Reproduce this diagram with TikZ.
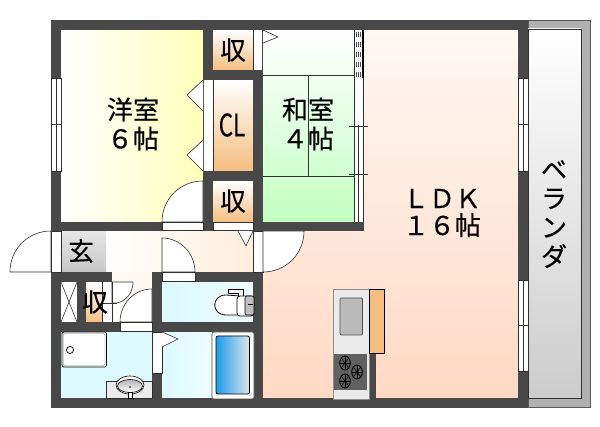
\documentclass[tikz,border=0pt]{standalone}
\usepackage{fontspec}
\setmainfont{Noto Sans CJK JP}[FakeBold=0.25]
\definecolor{wallgray}{HTML}{484848}
\definecolor{linegray}{HTML}{303030}
\definecolor{closetorange}{HTML}{F5BE80}
\definecolor{ldkpale}{HTML}{FFF8F3}
\definecolor{ldkdeep}{HTML}{FFD9C4}
\definecolor{tubblue}{HTML}{1E9BE8}
\definecolor{tubpale}{HTML}{DCE6EE}
\definecolor{wetblue}{HTML}{DCFAFF}
\tikzset{
  wall/.style={fill=wallgray, draw=none},
  opening/.style={fill=white, draw=linegray, line width=0.6pt},
  thinline/.style={draw=linegray, line width=0.6pt},
  roomlabel/.style={inner sep=0pt, font=\fontsize{26}{29}\selectfont, text=black, align=center},
  closetlabel/.style={inner sep=0pt, font=\fontsize{25.5}{28}\selectfont, text=black},
  closetfill/.style={top color=white, bottom color=closetorange, draw=none},
}
\begin{document}
\begin{tikzpicture}[x=1pt, y=-1pt]
\useasboundingbox (0,0) rectangle (600,427);

% veranda
\fill[fill=gray!62] (528,20) rectangle (590,407);
\draw[draw=black!65, line width=0.6pt] (528,20) rectangle (590,407);
\shade[top color=white, bottom color=black!20, draw=linegray, line width=0.5pt] (528,29) rectangle (581,398);

% rooms
\shade[shading angle=135, left color=white, right color=yellow!28!white] (61,30) rectangle (204,222);
\shade[top color=white, bottom color=green!24!white] (263,30) rectangle (354,222);
\shade[top color=ldkpale, bottom color=ldkdeep] (363,30) -- (519,30) -- (519,398) -- (263,398) -- (263,231) -- (363,231) -- cycle;
\shade[left color=white, right color=orange!14!white] (106,231) rectangle (253,272);
\fill[fill=orange!5!white] (112,272) rectangle (152,322);
\shade[left color=wetblue, right color=wetblue!50!white] (162,282) rectangle (253,322);
\fill[fill=wetblue] (61,332) rectangle (152,398);
\shade[left color=wetblue, right color=white] (162,332) rectangle (253,398);
\shade[top color=black!10, bottom color=black!22] (61,231) rectangle (106,272);

% closets
\shade[closetfill] (213,30) rectangle (253,70);
\shade[closetfill] (213,80) rectangle (253,171);
\shade[closetfill] (213,181) rectangle (253,222);
\shade[closetfill] (86,282) rectangle (102,322);
\fill[fill=white] (102,282) rectangle (120,322);
\fill[fill=white] (61,282) rectangle (77,322);
\draw[thinline] (61,282) -- (77,322);
\draw[thinline] (77,282) -- (61,322);

% walls
\fill[wall] (51,20) rectangle (528,30);
\fill[wall] (51,398) rectangle (528,408);
\fill[wall] (51,20) rectangle (61,408);
\fill[wall] (518,20) rectangle (528,408);
\fill[wall] (203,20) rectangle (213,231);
\fill[wall] (253,20) rectangle (263,231);
\fill[wall] (203,70) rectangle (263,80);
\fill[wall] (203,171) rectangle (263,181);
\fill[wall] (51,222) rectangle (364,231);
\fill[wall] (51,272) rectangle (112,282);
\fill[wall] (77,282) rectangle (86,322);
\fill[wall] (51,322) rectangle (120,332);
\fill[wall] (152,272) rectangle (263,282);
\fill[wall] (152,272) rectangle (162,398);
\fill[wall] (152,322) rectangle (263,332);
\fill[wall] (253,272) rectangle (263,398);
\fill[wall] (369,353) rectangle (376,398);

% tatami
\draw[thinline] (263,75) -- (354,75);
\draw[thinline] (263,176) -- (354,176);
\draw[thinline] (308,75) -- (308,176);

% sliding doors to the LDK
\fill[fill=white] (354,30) rectangle (363,222);
\draw[thinline] (354,30) -- (354,222);
\draw[thinline] (363,78) -- (363,222);
\draw[thinline] (358.5,125) -- (358.5,222);
\fill[fill=black] (362,30) rectangle (364,78);
\foreach \y in {32,42,52,62,72} {
  \foreach \x in {356,358,360} {
    \fill[fill=black!70] (\x,\y) rectangle (\x+1,\y+5);
  }
}
\draw[thinline] (349,126) -- (368,126);
\draw[thinline] (349,174) -- (368,174);

% windows
\foreach \x/\ya/\yb in {51/78/171, 518/78/171, 518/280/371} {
  \draw[opening] (\x,\ya) rectangle (\x+10,\yb);
  \draw[thinline] (\x+5,\ya) -- (\x+5,\yb);
  \draw[thinline] (\x,\ya/2+\yb/2) -- (\x+10,\ya/2+\yb/2);
}

% closet doors
\fill[fill=white] (253,30) rectangle (262,70);
\draw[thinline] (253,30) -- (253,70);
\draw[opening] (263,30) -- (278,37) -- (263,43);
\fill[fill=white] (204,80) rectangle (213,171);
\draw[thinline] (213,80) -- (213,171);
\draw[opening] (203,80) -- (187,95) -- (203,111);
\draw[opening] (203,140) -- (187,155) -- (203,171);
\draw[opening] (213,222) rectangle (253,230);

% doors
\draw[opening] (203,181) .. controls (180,181) and (162,199) .. (162,222) -- (203,222) -- cycle;
\draw[opening] (162,222) rectangle (203,230);
\draw[opening] (51,231) .. controls (28,231) and (10,249) .. (10,272) -- (51,272) -- cycle;
\draw[opening] (51,231) rectangle (61,272);
\draw[opening] (253,231) rectangle (263,272);
\draw[opening] (263,272) .. controls (286,272) and (304,254) .. (304,231) -- (263,231) -- cycle;
\draw[opening] (238,231) -- (246,246) -- (253,231);
\draw[opening] (162,238) .. controls (180,238) and (195,253) .. (195,272) -- (162,272) -- cycle;
\draw[opening] (162,272) rectangle (195,281);
\draw[opening] (120,322) .. controls (120,304) and (134,289) .. (152,289) -- (152,322) -- cycle;
\draw[opening] (120,322) rectangle (152,331);
\draw[opening] (112,282) -- (133,282) .. controls (133,293) and (126,301) .. (117,303) -- (112,303) -- cycle;
\draw[thinline] (102,303) -- (117,303);
\draw[thinline] (102,282) -- (102,322);
\draw[thinline] (112,282) -- (112,322);
\fill[fill=white] (152.5,332) rectangle (162,373);
\draw[thinline] (152,332) rectangle (162,373);
\draw[opening] (162,332) -- (178,339) -- (162,347);

% toilet
\draw[fill=white, draw=black, line width=0.8pt] (240,296) -- (226,295) .. controls (211,295) and (211,315) .. (226,315) -- (240,315) -- cycle;
\draw[fill=white, draw=black, line width=0.8pt] (228,289) -- (243,289) -- (243,296) -- (238,296) -- (238,293) -- (228,293) -- cycle;
\draw[fill=white, draw=black, line width=0.8pt, rounded corners=3pt] (237,296) rectangle (254,316);
\draw[fill=black!25, draw=black, line width=0.6pt, rounded corners=2pt] (245,296) rectangle (254,315);
\draw[draw=black, line width=1pt] (248,305) -- (253,305);

% shower pan and sink
\draw[fill=white, draw=black, line width=0.7pt, rounded corners=2pt] (62,332) rectangle (106.5,367);
\draw[draw=gray, line width=0.4pt, rounded corners=2pt] (63.5,333.5) rectangle (105,365.5);
\draw[fill=white, draw=black, line width=0.7pt] (70,350) circle (3.5);
\fill[fill=black!8] (106,381) rectangle (152,398);
\draw[thinline] (106,381) rectangle (152,398);
\draw[fill=white, draw=black, line width=0.6pt] (130,385) ellipse (14 and 9);
\shade[top color=black!30, bottom color=white, draw=black, line width=0.6pt] (130,386) ellipse (12.5 and 6.5);
\fill[fill=black] (130,387) circle (0.8);
\draw[fill=white, draw=black, line width=0.5pt] (128,392) rectangle (132,398);

% bathtub
\draw[fill=white, draw=black!70, line width=0.6pt, rounded corners=2pt] (212,332) rectangle (254,399);
\shade[shading angle=150, left color=tubblue, right color=tubpale, draw=black, line width=0.8pt, rounded corners=2pt] (216,336) rectangle (249.5,394);

% kitchen
\draw[fill=black!8, draw=black!45, line width=0.6pt] (333,289) rectangle (369,399);
\draw[fill=black!27, draw=black!70, line width=0.7pt, rounded corners=1pt] (340,298) rectangle (362.5,335);
\fill[fill=black!62] (334,354) rectangle (367,390);
\foreach \x/\y in {345/363, 357/372, 345/381} {
  \draw[draw=black, line width=0.9pt] (\x,\y) ellipse (5.3 and 7);
  \draw[draw=black, line width=0.6pt] (\x-5,\y) -- (\x+5,\y);
  \draw[draw=black, line width=0.6pt] (\x,\y-6.5) -- (\x,\y+6.5);
  \draw[draw=black, line width=0.5pt] (\x-3.5,\y-4.5) -- (\x+3.5,\y+4.5);
  \draw[draw=black, line width=0.5pt] (\x-3.5,\y+4.5) -- (\x+3.5,\y-4.5);
}
\draw[fill=closetorange, draw=black, line width=0.8pt] (369.5,289) rectangle (384,353);

% labels
\node[roomlabel] (yoshitsu) at (133,124) {洋室\\６帖};
\node[roomlabel] (washitsu) at (308,124) {和室\\４帖};
\node[roomlabel, font=\fontsize{26}{27}\selectfont] (ldk) at (442,213) {ＬＤＫ\\１６帖};
\node[closetlabel] (shutop) at (233,50) {収};
\node[closetlabel] (shumid) at (233,201) {収};
\node[closetlabel] (shulow) at (95,302) {収};
\node[closetlabel, font=\fontsize{31}{33}\selectfont, xscale=0.72] (cl) at (232,125) {CL};
\node[closetlabel] (genkan) at (81,251) {玄};
\node[roomlabel, font=\fontsize{26}{29}\selectfont] (veranda) at (554,214) {ベ\\ラ\\ン\\ダ};
\end{tikzpicture}
\end{document}
